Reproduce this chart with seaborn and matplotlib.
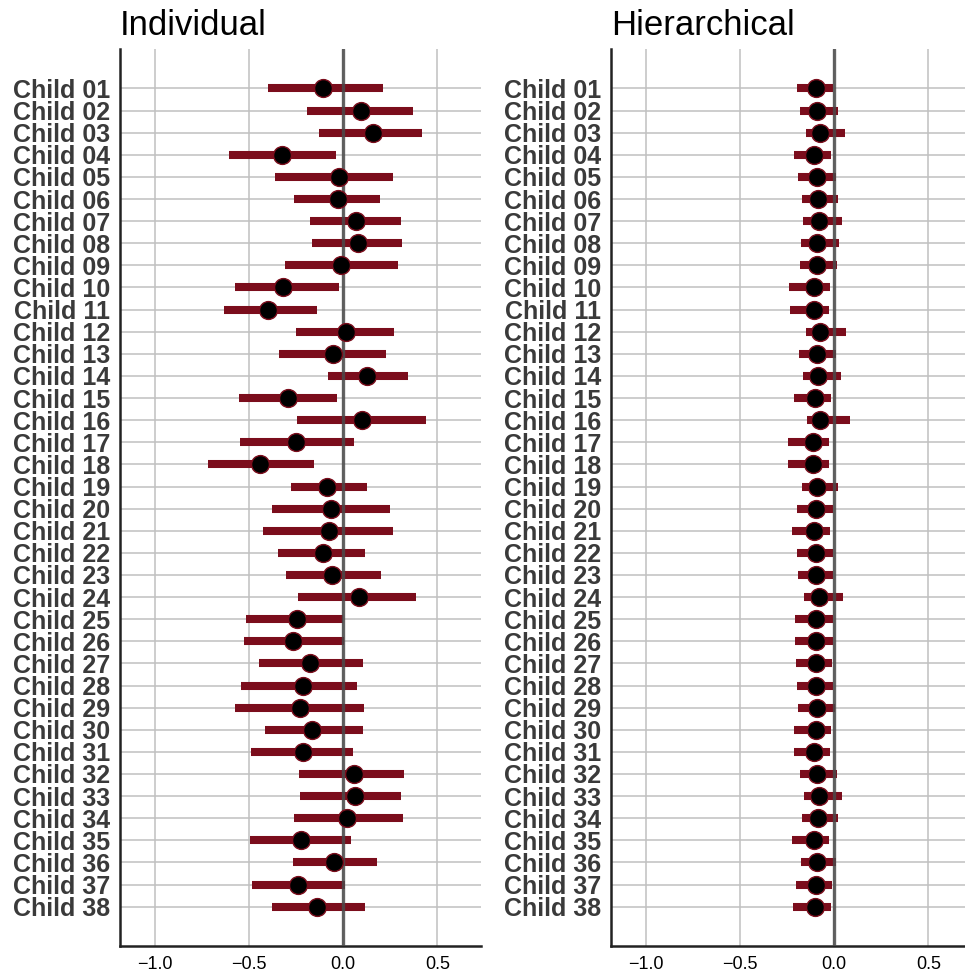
import numpy as np
import pandas as pd
import seaborn as sns
import matplotlib.pyplot as plt

# data
children = [f"Child {i:02d}" for i in range(1, 39)]

ind_est = [-0.108, 0.094, 0.156, -0.324, -0.025, -0.027, 0.069, 0.076, -0.014, -0.321,
           -0.399, 0.014, -0.055, 0.124, -0.296, 0.101, -0.250, -0.441, -0.085, -0.067,
           -0.076, -0.108, -0.059, 0.082, -0.245, -0.266, -0.174, -0.216, -0.230, -0.165,
           -0.215, 0.057, 0.064, 0.021, -0.222, -0.050, -0.239, -0.140]
ind_lo = [-0.399, -0.193, -0.128, -0.606, -0.362, -0.259, -0.176, -0.167, -0.312, -0.573,
          -0.631, -0.250, -0.342, -0.083, -0.553, -0.248, -0.551, -0.720, -0.278, -0.378,
          -0.424, -0.346, -0.305, -0.241, -0.516, -0.528, -0.450, -0.543, -0.574, -0.415,
          -0.488, -0.236, -0.230, -0.262, -0.493, -0.266, -0.486, -0.379]
ind_hi = [0.209, 0.369, 0.417, -0.037, 0.266, 0.193, 0.309, 0.312, 0.289, -0.025,
          -0.140, 0.268, 0.227, 0.346, -0.035, 0.440, 0.057, -0.154, 0.124, 0.250,
          0.266, 0.117, 0.199, 0.385, -0.002, 0.005, 0.103, 0.071, 0.112, 0.105,
          0.053, 0.323, 0.305, 0.319, 0.041, 0.179, 0.009, 0.115]

hier_est = [-0.096, -0.089, -0.076, -0.105, -0.092, -0.085, -0.083, -0.089, -0.092, -0.108,
            -0.108, -0.076, -0.094, -0.085, -0.103, -0.073, -0.112, -0.112, -0.089, -0.096,
            -0.106, -0.098, -0.096, -0.083, -0.098, -0.099, -0.098, -0.096, -0.094, -0.099,
            -0.106, -0.090, -0.082, -0.087, -0.106, -0.090, -0.098, -0.101]
hier_lo = [-0.199, -0.181, -0.152, -0.215, -0.195, -0.170, -0.165, -0.176, -0.183, -0.239,
           -0.234, -0.152, -0.186, -0.165, -0.215, -0.147, -0.248, -0.245, -0.170, -0.200,
           -0.225, -0.199, -0.195, -0.161, -0.206, -0.211, -0.204, -0.200, -0.190, -0.213,
           -0.216, -0.183, -0.161, -0.170, -0.223, -0.176, -0.204, -0.220]
hier_hi = [-0.005, 0.021, 0.055, -0.016, 0.011, 0.021, 0.041, 0.025, 0.014, -0.025,
           -0.027, 0.062, 0.012, 0.035, -0.016, 0.085, -0.030, -0.030, 0.018, -0.004,
           -0.023, -0.009, -0.007, 0.046, -0.009, -0.009, -0.012, -0.005, 0.002, -0.016,
           -0.023, 0.014, 0.041, 0.021, -0.027, 0.012, -0.011, -0.016]

panels = [("Individual", ind_est, ind_lo, ind_hi),
          ("Hierarchical", hier_est, hier_lo, hier_hi)]

sns.set_style("white")
plt.rcParams['font.family'] = ['Liberation Sans', 'DejaVu Sans']

dark_red = "#7b0d1c"

fig = plt.figure(figsize=(9.65, 9.76), dpi=100)
ax_left = fig.add_axes([0.1244, 0.0307, 0.374, 0.919])
ax_right = fig.add_axes([0.6332, 0.0307, 0.374, 0.919])

for ax, (title, est, lo, hi) in zip([ax_left, ax_right], panels):
    df = pd.DataFrame({"child": children, "est": est, "lo": lo, "hi": hi})

    ax.hlines(y=df["child"], xmin=df["lo"], xmax=df["hi"], color=dark_red,
              linewidth=5.8, zorder=3, capstyle="butt")
    ax.axvline(0, color="#4a4a4a", linewidth=2.4, alpha=0.85, zorder=4)
    sns.scatterplot(data=df, x="est", y="child", ax=ax, color="black",
                    edgecolor=dark_red, linewidth=1.0, s=165, zorder=5, legend=False)

    ax.set_xlim(-1.186, 0.732)
    ax.set_ylim(len(children) - 1 + 1.78, -1.78)
    ax.set_xticks([-1.0, -0.5, 0.0, 0.5])
    ax.set_xticklabels(["\u22121.0", "\u22120.5", "0.0", "0.5"])
    ax.grid(True, color="#c0c0c0", linewidth=1.1, zorder=0)
    ax.set_axisbelow(True)

    ax.set_xlabel("")
    ax.set_ylabel("")
    ax.set_title(title, loc="left", fontsize=25, pad=10, color="black")

    for s in ["top", "right"]:
        ax.spines[s].set_visible(False)
    for s in ["left", "bottom"]:
        ax.spines[s].set_color("#222222")
        ax.spines[s].set_linewidth(1.8)

    ax.tick_params(axis="y", length=4, width=1.2, color="#333333", pad=3,
                   labelsize=18, labelcolor="#3a3a3a")
    ax.tick_params(axis="x", length=3, width=1.0, color="#333333", pad=4,
                   labelsize=13, labelcolor="black")
    for lab in ax.get_yticklabels():
        lab.set_fontweight("bold")

fig.savefig("out.png", dpi=100)
